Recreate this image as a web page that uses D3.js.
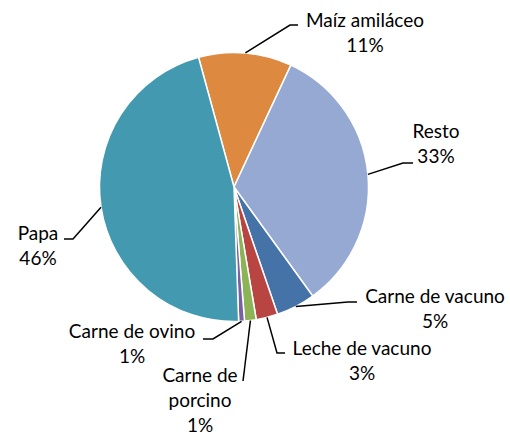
<!DOCTYPE html>
<html>
<head>
<meta charset="utf-8">
<script src="https://cdn.jsdelivr.net/npm/d3@7"></script>
<style>
  html, body { margin: 0; padding: 0; background: #fff; }
  svg text { font-family: Lato, "Open Sans", sans-serif; fill: #000; }
</style>
</head>
<body>
<div id="chart"></div>
<script>
// Data, clockwise from the first slice
const categories = ["Maíz amiláceo", "Resto", "Carne de vacuno", "Leche de vacuno", "Carne de porcino", "Carne de ovino", "Papa"];
const values = [11.2, 33.1, 4.7, 2.6, 1.4, 0.7, 46.3];
const colors = ["#DD8A40", "#95A9D2", "#4572A7", "#B94543", "#8DB357", "#7960A0", "#4299B0"];

// label layout: text lines, text centre x, first baseline, leader elbow, leader end
const labelLines = [["Maíz amiláceo"], ["Resto"], ["Carne de vacuno"], ["Leche de vacuno"], ["Carne de", "porcino"], ["Carne de ovino"], ["Papa"]];
const labelPos = [
  {x: 365, y: 27, elbow: [290, 25], end: [298, 25]},
  {x: 436, y: 138, elbow: [403, 163], end: [413, 163]},
  {x: 435, y: 303, elbow: [348, 302], end: [357, 302]},
  {x: 362, y: 355, elbow: [277, 353], end: [285, 353]},
  {x: 200, y: 382, elbow: [243, 381], end: [243, 381]},
  {x: 132, y: 338, elbow: [213, 339], end: [203, 339]},
  {x: 38, y: 240, elbow: [73, 239], end: [64, 239]}
];

const width = 510, height = 437;
const cx = 234, cy = 187, radius = 134.5;
const lineH = 25;

const svg = d3.select("#chart").append("svg")
  .attr("width", width)
  .attr("height", height);

const pie = d3.pie()
  .sort(null)
  .value(d => d)
  .startAngle(-15.3 * Math.PI / 180)
  .endAngle((360 - 15.3) * Math.PI / 180);

const arcs = pie(values);
const arc = d3.arc().innerRadius(0).outerRadius(radius);

const g = svg.append("g").attr("transform", `translate(${cx},${cy})`);

g.selectAll("path")
  .data(arcs)
  .join("path")
  .attr("d", arc)
  .attr("fill", (d, i) => colors[i])
  .attr("stroke", "#fff")
  .attr("stroke-width", 1.5);

// leader lines
arcs.forEach((d, i) => {
  const mid = (d.startAngle + d.endAngle) / 2;
  const ax = cx + radius * Math.sin(mid);
  const ay = cy - radius * Math.cos(mid);
  const p = labelPos[i];
  svg.append("polyline")
    .attr("points", [[ax, ay], p.elbow, p.end].map(q => q.join(",")).join(" "))
    .attr("fill", "none")
    .attr("stroke", "#000")
    .attr("stroke-width", 1.5);
});

// labels
arcs.forEach((d, i) => {
  const p = labelPos[i];
  const lines = labelLines[i].concat([Math.round(values[i]) + "%"]);
  const t = svg.append("text")
    .attr("text-anchor", "middle")
    .attr("font-size", 19);
  lines.forEach((s, k) => {
    t.append("tspan")
      .attr("x", p.x)
      .attr("y", p.y + k * lineH)
      .text(s);
  });
});
</script>
</body>
</html>
